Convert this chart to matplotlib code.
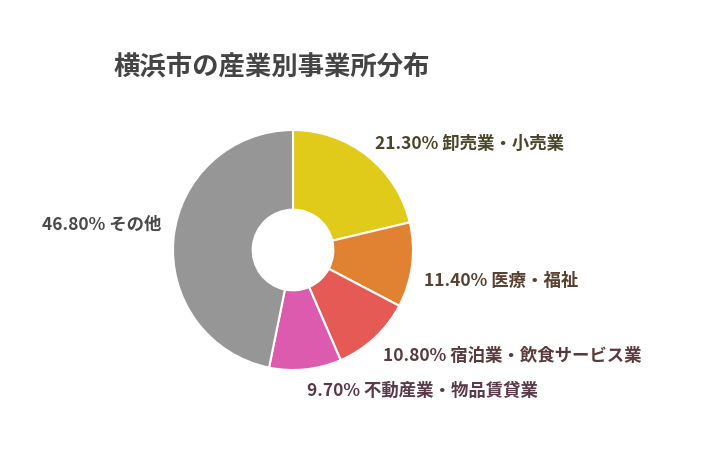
import matplotlib.pyplot as plt

plt.rcParams['font.family'] = ['Noto Sans CJK JP', 'DejaVu Sans']

categories = ["卸売業・小売業", "医療・福祉", "宿泊業・飲食サービス業", "不動産業・物品賃貸業", "その他"]
shares = [21.30, 11.40, 10.80, 9.70, 46.80]
colors = ["#E0CB1A", "#E08232", "#E55A55", "#DD5BAE", "#969696"]
label_colors = ["#4A4528", "#5A4030", "#5A3A3A", "#5A3A4A", "#4A4A4A"]

fig = plt.figure(figsize=(7.04, 4.5), dpi=100)
ax = fig.add_axes([(293 - 120) / 704, (450 - 250 - 120) / 450, 240 / 704, 240 / 450])

labels = [f"{v:.2f}% {c}" for c, v in zip(categories, shares)]
wedges, texts = ax.pie(
    shares, colors=colors, startangle=90, counterclock=False,
    labels=labels, labeldistance=1.1,
    wedgeprops=dict(width=1 - 40 / 119, edgecolor="white", linewidth=1.5),
    textprops=dict(fontsize=12.5, fontweight="bold"),
)
for t, c in zip(texts, label_colors):
    t.set_color(c)
    t.set_va("center")
# nudge labels to match the layout
x, y = texts[0].get_position()
texts[0].set_position((x, y + 0.02))
x, y = texts[1].get_position()
texts[1].set_position((x, y - 0.12))
x, y = texts[2].get_position()
texts[2].set_position((x, y - 0.08))
x, y = texts[3].get_position()
texts[3].set_position((x, y - 0.08))
x, y = texts[4].get_position()
texts[4].set_position((x, y + 0.10))
ax.set_xlim(-1, 1)
ax.set_ylim(-1, 1)
ax.set_aspect("equal")

fig.text(113 / 704, 1 - 68 / 450, "横浜市の産業別事業所分布", fontsize=19,
         fontweight="bold", color="#444444", va="center", ha="left")

fig.savefig("out.png", dpi=100)
